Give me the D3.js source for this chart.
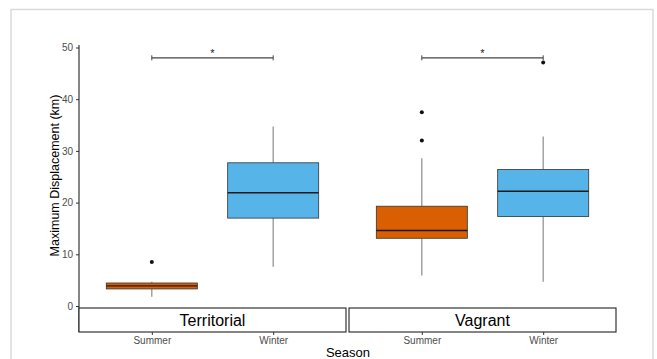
<!DOCTYPE html>
<html>
<head>
<meta charset="utf-8">
<script src="https://cdn.jsdelivr.net/npm/d3@7"></script>
<style>
  body { margin: 0; background: #fff; }
  svg { display: block; font-family: Arial, "Liberation Sans", sans-serif; }
</style>
</head>
<body>
<svg width="657" height="359"></svg>
<script>
// data (km)
const groups   = ["Territorial", "Vagrant"];
const seasons  = ["Summer", "Winter"];
const fills    = { Summer: "#d95f02", Winter: "#56b4e9" };
// [group, season, lowerWhisker, q1, median, q3, upperWhisker]
const boxStats = [
  ["Territorial", "Summer", 1.8, 3.3, 3.9, 4.45, 4.7],
  ["Territorial", "Winter", 7.6, 17.0, 21.9, 27.7, 34.7],
  ["Vagrant",     "Summer", 5.9, 13.1, 14.6, 19.3, 28.6],
  ["Vagrant",     "Winter", 4.7, 17.3, 22.2, 26.4, 32.8]
];
const outliers = [
  ["Territorial", "Summer", 8.5],
  ["Vagrant",     "Summer", 37.5],
  ["Vagrant",     "Summer", 32.0],
  ["Vagrant",     "Winter", 47.1]
];
const sigY = 48;
const yTicks = [0, 10, 20, 30, 40, 50];

const svg = d3.select("svg");

// outer frame
svg.append("rect")
  .attr("x", 11).attr("y", 9.5).attr("width", 642).attr("height", 360)
  .attr("fill", "none").attr("stroke", "#d9d9d9").attr("stroke-width", 1.5);

const panelTop = 45, panelBottom = 308;
const y = d3.scaleLinear().domain([0, 50]).range([306, 47.5]);

const panelX = d3.scaleBand().domain(groups).range([79, 616]).paddingInner(6 / 537);

// y axis
const yAxis = svg.append("g").attr("transform", "translate(79,0)")
  .call(d3.axisLeft(y).tickValues(yTicks).tickSize(3).tickPadding(3));
yAxis.select(".domain").remove();
yAxis.selectAll("line").attr("stroke", "#333");
yAxis.selectAll("text").attr("fill", "#4d4d4d").style("font-size", "10px");
svg.append("line").attr("x1", 79).attr("x2", 79).attr("y1", panelTop).attr("y2", 332)
  .attr("stroke", "#222").attr("stroke-width", 1.1);

svg.append("text")
  .attr("transform", "translate(59," + ((panelTop + panelBottom) / 2 - 1) + ") rotate(-90)")
  .attr("text-anchor", "middle")
  .style("font-size", "12.5px")
  .text("Maximum Displacement (km)");

groups.forEach(grp => {
  const x0 = panelX(grp), w = panelX.bandwidth();
  // discrete scale with 0.6 expansion
  const x = d3.scalePoint().domain(seasons).range([x0 + w * 0.6 / 2.2, x0 + w * 1.6 / 2.2]);
  const unit = w / 2.2;
  const bw = unit * 0.75;
  const g = svg.append("g");

  boxStats.filter(d => d[0] === grp).forEach(d => {
    const cx = x(d[1]);
    g.append("line").attr("x1", cx).attr("x2", cx).attr("y1", y(d[5])).attr("y2", y(d[6]))
      .attr("stroke", "#8c8c8c").attr("stroke-width", 1.2);
    g.append("line").attr("x1", cx).attr("x2", cx).attr("y1", y(d[3])).attr("y2", y(d[2]))
      .attr("stroke", "#8c8c8c").attr("stroke-width", 1.2);
    g.append("rect").attr("x", cx - bw / 2).attr("width", bw)
      .attr("y", y(d[5])).attr("height", y(d[3]) - y(d[5]))
      .attr("fill", fills[d[1]]).attr("stroke", "#333").attr("stroke-width", 0.8);
    g.append("line").attr("x1", cx - bw / 2).attr("x2", cx + bw / 2)
      .attr("y1", y(d[4])).attr("y2", y(d[4]))
      .attr("stroke", "#1a1a1a").attr("stroke-width", 1.4);
  });

  outliers.filter(d => d[0] === grp).forEach(d => {
    g.append("circle").attr("cx", x(d[1])).attr("cy", y(d[2])).attr("r", 2).attr("fill", "#111");
  });

  // significance bracket
  const sx1 = x("Summer"), sx2 = x("Winter"), sy = y(sigY);
  g.append("line").attr("x1", sx1).attr("x2", sx2).attr("y1", sy).attr("y2", sy)
    .attr("stroke", "#444").attr("stroke-width", 1.1);
  [sx1, sx2].forEach(px => g.append("line").attr("x1", px).attr("x2", px)
    .attr("y1", sy - 2.5).attr("y2", sy + 2.5).attr("stroke", "#444").attr("stroke-width", 1));
  g.append("text").attr("x", (sx1 + sx2) / 2).attr("y", sy - 0.5)
    .attr("text-anchor", "middle").style("font-size", "11px").attr("fill", "#222").text("*");

  // strip
  g.append("rect").attr("x", x0).attr("y", 308).attr("width", w).attr("height", 24)
    .attr("fill", "#fff").attr("stroke", "#222").attr("stroke-width", 1.1);
  g.append("text").attr("x", x0 + w / 2).attr("y", 326).attr("text-anchor", "middle")
    .style("font-size", "16px").text(grp);

  // x axis under strip
  const xa = g.append("g").attr("transform", "translate(0,332)")
    .call(d3.axisBottom(x).tickSize(3).tickPadding(2));
  xa.select(".domain").remove();
  xa.selectAll("line").attr("stroke", "#333");
  xa.selectAll("text").attr("fill", "#4d4d4d").style("font-size", "10px");
});

svg.append("text").attr("x", 348).attr("y", 357).attr("text-anchor", "middle")
  .style("font-size", "13px").text("Season");
</script>
</body>
</html>
